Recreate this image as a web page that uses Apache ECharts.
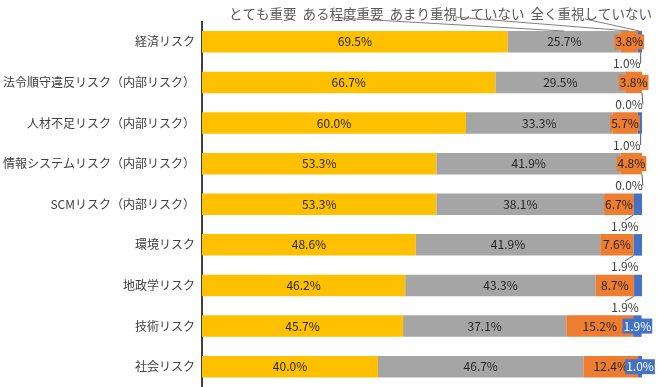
<!DOCTYPE html>
<html><head><meta charset="utf-8">
<script src="https://cdn.jsdelivr.net/npm/echarts@6/dist/echarts.min.js"></script>
<style>html,body{margin:0;padding:0;background:#fff}#c{width:658px;height:387px}</style>
</head><body><div id="c"></div>
<script>
const categories = ['経済リスク','法令順守違反リスク（内部リスク）','人材不足リスク（内部リスク）','情報システムリスク（内部リスク）','SCMリスク（内部リスク）','環境リスク','地政学リスク','技術リスク','社会リスク'];
const seriesNames = ['とても重要','ある程度重要','あまり重視していない','全く重視していない'];
const veryImportant = [69.5,66.7,60.0,53.3,53.3,48.6,46.2,45.7,40.0];
const somewhatImportant = [25.7,29.5,33.3,41.9,38.1,41.9,43.3,37.1,46.7];
const notMuch = [3.8,3.8,5.7,4.8,6.7,7.6,8.7,15.2,12.4];
const notAtAll = [1.0,0.0,1.0,0.0,1.9,1.9,1.9,1.9,1.0];
const colors = ['#FFC000','#A5A5A5','#ED7D31','#4472C4'];

const FONT = '"Noto Sans CJK JP", sans-serif';
const fmt = p => p.value.toFixed(1) + '%';
const chart = echarts.init(document.getElementById('c'));

const blueData = notAtAll.map((v,i) => i >= 7 ? {value: v, label: {backgroundColor: colors[3], color: '#fff', padding: [2,1,1,1]}} : v);

const option = {
  animation: false,
  textStyle: {fontFamily: FONT},
  legend: {
    data: seriesNames, top: 2, left: 224, itemWidth: 0, itemHeight: 0, itemGap: 6, icon: 'none', selectedMode: false,
    textStyle: {fontFamily: FONT, fontSize: 13.5, color: '#595959', padding: [0,0,0,-5]}
  },
  grid: {left: 199, right: 16, top: 21.5, height: 368, containLabel: false},
  xAxis: {type: 'value', min: 0, max: 100, show: false},
  yAxis: {
    type: 'category', data: categories, inverse: true,
    axisLine: {lineStyle: {color: '#000', width: 1.5}}, axisTick: {show: false},
    axisLabel: {fontFamily: FONT, fontSize: 12, color: '#404040', margin: 7}
  },
  series: [
    {name: seriesNames[0], type: 'bar', stack: 's', data: veryImportant, barWidth: '53%', itemStyle: {color: colors[0]},
     label: {show: true, position: 'inside', formatter: fmt, color: '#262626', fontSize: 12, fontFamily: FONT}},
    {name: seriesNames[1], type: 'bar', stack: 's', data: somewhatImportant, itemStyle: {color: colors[1]},
     label: {show: true, position: 'inside', formatter: fmt, color: '#262626', fontSize: 12, fontFamily: FONT}},
    {name: seriesNames[2], type: 'bar', stack: 's', data: notMuch, itemStyle: {color: colors[2]},
     label: {show: true, position: 'inside', formatter: fmt, color: '#262626', fontSize: 12, fontFamily: FONT,
             backgroundColor: colors[2], padding: [2,1,1,1]}},
    {name: seriesNames[3], type: 'bar', stack: 's', data: blueData, itemStyle: {color: colors[3]},
     label: {show: true, position: 'inside', formatter: fmt, color: '#404040', fontSize: 12, fontFamily: FONT},
     labelLayout: function (p) { return p.dataIndex < 7 ? {dx: -13, dy: 22} : {}; },
     labelLine: {show: true, length2: 0, lineStyle: {color: '#595959', width: 1}}}
  ]
};
chart.setOption(option);

// leader lines from the top series-name labels to the segments of the first bar
const c0 = chart.convertToPixel({gridIndex: 0}, [0, 0]);
const c1 = chart.convertToPixel({gridIndex: 0}, [0, 1]);
const barTop = c0[1] - (c1[1] - c0[1]) * 0.53 / 2;
const mid = [
  somewhatImportant[0] / 2 + veryImportant[0],
  notMuch[0] / 2 + veryImportant[0] + somewhatImportant[0],
  notAtAll[0] / 2 + veryImportant[0] + somewhatImportant[0] + notMuch[0]
];
const starts = [[340, 18], [455, 17], [585, 19]];
const lines = mid.map((m, i) => {
  const px = chart.convertToPixel({gridIndex: 0}, [m, 0]);
  return {type: 'line', shape: {x1: starts[i][0], y1: starts[i][1], x2: px[0], y2: barTop}, style: {stroke: '#808080', lineWidth: 1}, z: 10};
});
chart.setOption({graphic: lines});
</script></body></html>
